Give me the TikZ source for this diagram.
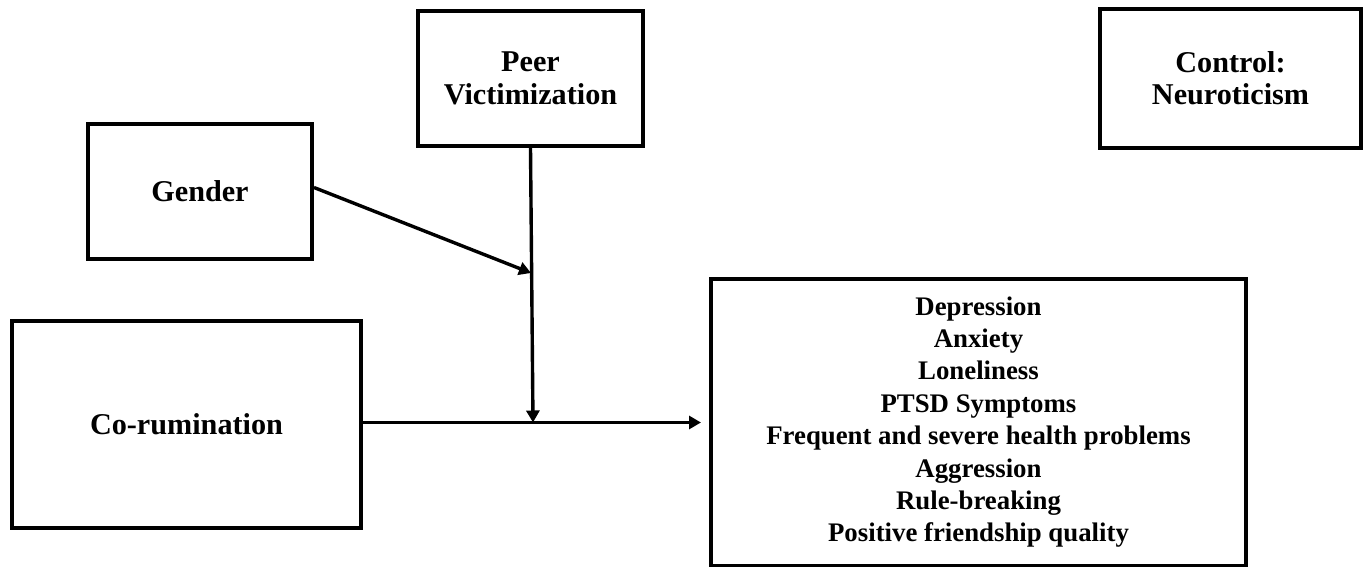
\documentclass[tikz,border=0pt]{standalone}
\usepackage{fontspec}
\setmainfont{Liberation Serif}
\usetikzlibrary{arrows.meta}

\begin{document}
\begin{tikzpicture}[x=1pt,y=-1pt,
  box/.style={draw=black,line width=4pt,rectangle,align=center,inner sep=0pt,
    font=\fontsize{30.2}{32.4}\selectfont\bfseries},
  outbox/.style={box,font=\fontsize{26.8}{32.4}\selectfont\bfseries},
  link/.style={line width=3.4pt,-{Triangle[length=12pt,width=13pt]}}]
  \useasboundingbox (0,0) rectangle (1369,567);

  % predictor, moderators and control
  \node[box,minimum width=225pt,minimum height=135pt] (peer) at (530.5,78.5)
    {Peer\\Victimization};
  \node[box,minimum width=224pt,minimum height=135pt] (gender) at (200,191.5)
    {Gender};
  \node[box,minimum width=349pt,minimum height=207pt] (corum) at (186.5,424.5)
    {Co-rumination};
  \node[box,minimum width=261pt,minimum height=139pt] (control) at (1230.5,78.5)
    {Control:\\Neuroticism};

  % outcomes
  \node[outbox,minimum width=535pt,minimum height=287pt] (outcome) at (978.5,422)
    {Depression\\Anxiety\\Loneliness\\PTSD Symptoms\\Frequent and severe health problems\\
     Aggression\\Rule-breaking\\Positive friendship quality};

  % junction points on the main path
  \coordinate (j) at (533,422.5);
  \coordinate (g) at (531,273);

  % main effect path
  \draw[link,shorten >=8pt] (corum.east |- j) -- (outcome.west |- j);
  % moderation by peer victimization
  \draw[link] (peer.south) -- (j);
  % moderation by gender
  \draw[link] ([yshift=4pt]gender.east) -- (g);
\end{tikzpicture}
\end{document}
